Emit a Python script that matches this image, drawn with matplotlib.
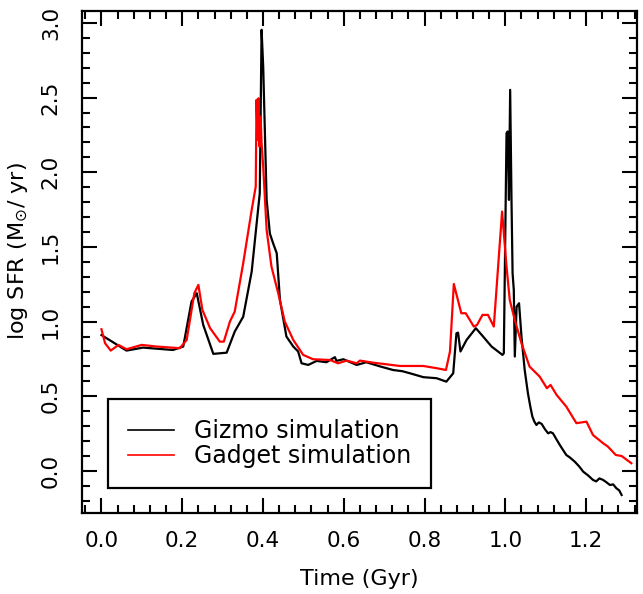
import matplotlib
matplotlib.use("Agg")
import matplotlib.pyplot as plt
from matplotlib.ticker import MultipleLocator

# Gizmo simulation (black)
gizmo_t = [0.0, 0.062, 0.103, 0.177, 0.2025, 0.223, 0.236, 0.252, 0.277, 0.31,
           0.33, 0.351, 0.372, 0.392, 0.3965, 0.4005, 0.409, 0.417, 0.425, 0.434,
           0.442, 0.458, 0.475, 0.487, 0.4955, 0.512, 0.533, 0.557, 0.578, 0.582,
           0.599, 0.632, 0.656, 0.69, 0.722, 0.745, 0.764, 0.797, 0.83, 0.854,
           0.871, 0.879, 0.883, 0.889, 0.904, 0.927, 0.945, 0.966, 0.993, 0.9963,
           1.003, 1.006, 1.009, 1.012, 1.0153, 1.018, 1.021, 1.0235, 1.028, 1.034,
           1.04, 1.048, 1.056, 1.062, 1.067, 1.072, 1.077, 1.083, 1.09, 1.098,
           1.106, 1.112, 1.118, 1.127, 1.135, 1.143, 1.151, 1.16, 1.172, 1.183,
           1.193, 1.205, 1.217, 1.225, 1.233, 1.242, 1.25, 1.259, 1.267, 1.275,
           1.282, 1.288]
gizmo_sfr = [0.91, 0.806, 0.826, 0.81, 0.833, 1.134, 1.19, 0.978, 0.784, 0.792,
             0.933, 1.033, 1.335, 1.86, 2.954, 2.708, 1.815, 1.59, 1.525, 1.458,
             1.145, 0.9, 0.833, 0.8, 0.721, 0.71, 0.737, 0.728, 0.762, 0.737,
             0.748, 0.71, 0.728, 0.70, 0.676, 0.668, 0.654, 0.628, 0.621, 0.598,
             0.654, 0.922, 0.926, 0.80, 0.877, 0.956, 0.9, 0.833, 0.777, 0.788,
             2.262, 2.273, 1.815, 2.552, 1.815, 1.324, 1.212, 0.766, 1.1, 1.123,
             0.9, 0.676, 0.52, 0.43, 0.364, 0.33, 0.308, 0.325, 0.315, 0.28,
             0.252, 0.26, 0.252, 0.21, 0.174, 0.14, 0.107, 0.09, 0.062, 0.03,
             -0.005, -0.03, -0.06, -0.07, -0.05, -0.06, -0.075, -0.094, -0.09, -0.116,
             -0.13, -0.161]

# Gadget simulation (red)
gadget_t = [0.0, 0.009, 0.023, 0.042, 0.062, 0.0995, 0.137, 0.194, 0.211, 0.23,
            0.24, 0.25, 0.269, 0.293, 0.303, 0.318, 0.33, 0.351, 0.372, 0.382,
            0.384, 0.3866, 0.389, 0.3915, 0.394, 0.3965, 0.4005, 0.409, 0.421, 0.4377,
            0.454, 0.475, 0.4995, 0.524, 0.566, 0.586, 0.607, 0.632, 0.64, 0.673,
            0.739, 0.797, 0.83, 0.853, 0.863, 0.8725, 0.891, 0.902, 0.922, 0.93,
            0.9435, 0.957, 0.9715, 0.992, 1.003, 1.011, 1.0235, 1.04, 1.06, 1.085,
            1.103, 1.112, 1.127, 1.151, 1.176, 1.201, 1.217, 1.242, 1.254, 1.2735,
            1.288, 1.312]
gadget_sfr = [0.949, 0.855, 0.806, 0.844, 0.815, 0.844, 0.833, 0.822, 0.877, 1.19,
              1.246, 1.078, 0.956, 0.866, 0.866, 1.0, 1.067, 1.391, 1.748, 1.904,
              2.485, 2.217, 2.496, 2.172, 2.373, 2.195, 2.038, 1.614, 1.368, 1.19,
              1.0, 0.877, 0.777, 0.748, 0.743, 0.721, 0.739, 0.721, 0.739, 0.725,
              0.703, 0.703, 0.688, 0.676, 0.8, 1.252, 1.056, 1.056, 0.967, 0.978,
              1.045, 1.045, 0.967, 1.737, 1.368, 1.145, 1.011, 0.855, 0.699, 0.632,
              0.554, 0.576, 0.509, 0.431, 0.32, 0.33, 0.241, 0.186, 0.163, 0.107,
              0.1, 0.052]

plt.rcParams['font.size'] = 15.5

fig = plt.figure(figsize=(6.43, 5.94), dpi=100)
ax = fig.add_axes([0.127, 0.136, 0.863, 0.846])

ax.plot(gizmo_t, gizmo_sfr, color='black', lw=1.6, label='Gizmo simulation')
ax.plot(gadget_t, gadget_sfr, color='red', lw=1.6, label='Gadget simulation')

ax.set_xlim(-0.049, 1.325)
ax.set_ylim(-0.283, 3.082)

ax.xaxis.set_major_locator(MultipleLocator(0.2))
ax.xaxis.set_minor_locator(MultipleLocator(0.04))
ax.yaxis.set_major_locator(MultipleLocator(0.5))
ax.yaxis.set_minor_locator(MultipleLocator(0.1))

ax.tick_params(which='both', direction='in', top=True, right=True, width=1.5)
ax.tick_params(which='major', length=11)
ax.tick_params(which='minor', length=6)
ax.tick_params(axis='x', which='major', pad=13)
ax.tick_params(axis='y', which='major', pad=15)
for lab in ax.get_yticklabels():
    lab.set_rotation(90)
    lab.set_va('center')
for s in ax.spines.values():
    s.set_linewidth(1.6)

ax.set_xlabel('Time (Gyr)', fontsize=16, labelpad=13)
ax.set_ylabel(r'log SFR (M$_{\odot}$/ yr)', fontsize=16)
ax.yaxis.set_label_coords(-0.093, 0.521)

leg = ax.legend(loc='lower left', bbox_to_anchor=(0.0474, 0.0504), borderaxespad=0,
                fancybox=False, edgecolor='black', framealpha=1, fontsize=17,
                handlelength=1.94, handletextpad=0.85, labelspacing=0.04,
                borderpad=0.84)
leg.get_frame().set_linewidth(1.6)
for h in leg.get_lines():
    h.set_linewidth(1.2)

fig.savefig('out.png', dpi=100)
